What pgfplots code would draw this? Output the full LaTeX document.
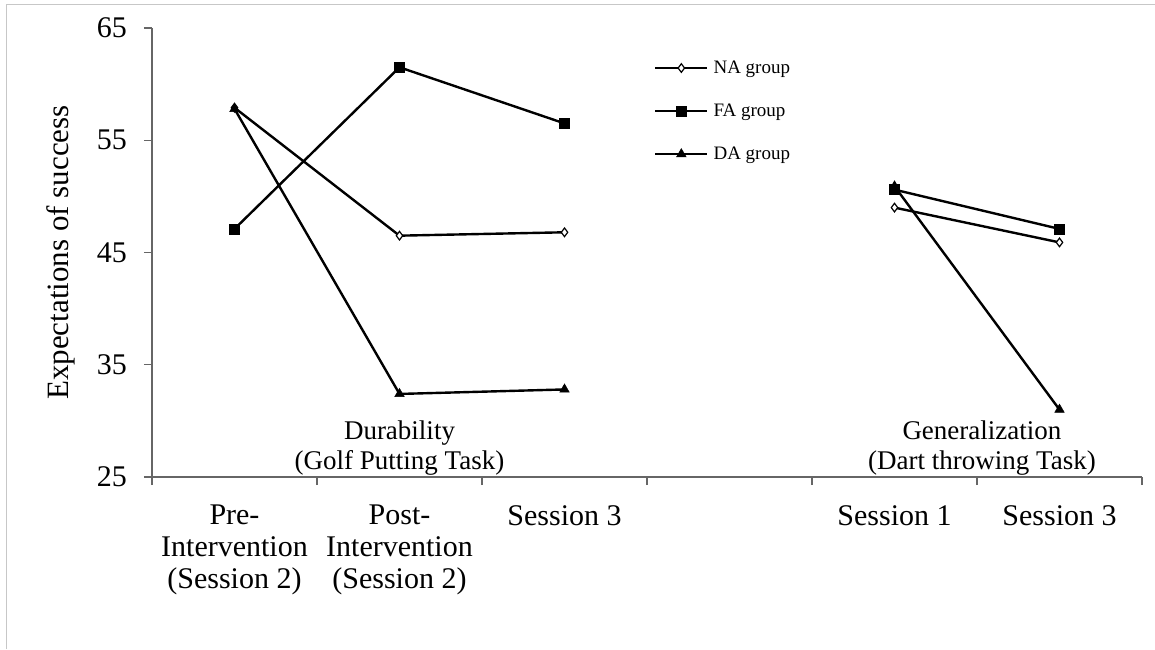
\documentclass[border=0pt]{standalone}
\usepackage{fontspec}
\setmainfont{Liberation Serif}
\usepackage{pgfplots}
\pgfplotsset{compat=1.18}
\begin{document}
\begin{tikzpicture}
\begin{axis}[
  at={(0pt,0pt)}, anchor=south west,
  scale only axis, width=990pt, height=449pt,
  xmin=0, xmax=6, ymin=25, ymax=65,
  axis x line*=bottom, axis y line*=left,
  axis line style={black!60, line width=1.2pt, -},
  ytick={25,35,45,55,65},
  xtick={0,1,2,3,4,5,6}, xticklabels={},
  extra x ticks={0.5,1.5,2.5,4.5,5.5},
  extra x tick labels={{Pre-\\Intervention\\(Session 2)},{Post-\\Intervention\\(Session 2)},{Session 3},{Session 1},{Session 3}},
  extra x tick style={major tick length=0pt},
  tick align=outside, major tick length=8pt,
  tick style={black!60, line width=1.2pt},
  /pgf/number format/assume math mode=true,
  xticklabel style={font=\fontsize{30}{32}\selectfont, align=center, anchor=north, inner sep=0pt, yshift=-28pt},
  yticklabel style={font=\fontsize{30}{32}\selectfont, inner sep=0pt, anchor=east, xshift=-17pt},
  ylabel={Expectations of success},
  every axis y label/.style={at={(axis description cs:-0.0919,0.5)}, rotate=90, anchor=center, font=\fontsize{31}{34}\selectfont},
  unbounded coords=jump,
  legend style={draw=none, fill=none, at={(axis description cs:0.507,0.815)}, anchor=west,
    font=\fontsize{19}{22}\selectfont, inner sep=0pt, row sep=29pt, column sep=5pt,
    nodes={inner sep=0pt}},
  legend cell align=left,
  legend image code/.code={\draw[mark repeat=2,mark phase=2,#1] plot coordinates {(0pt,0pt) (26pt,0pt) (52pt,0pt)};},
]
\addplot[black, line width=2.4pt, mark=diamond*, mark size=4.3pt, mark options={solid, fill=white, draw=black, line width=1.2pt}]
  coordinates {(0.5,57.9) (1.5,46.5) (2.5,46.8) (3.5,nan) (4.5,49.0) (5.5,45.9)};
\addlegendentry{NA group}
\addplot[black, line width=2.4pt, mark=square*, mark size=5pt, mark options={solid, fill=black, line width=0.5pt}]
  coordinates {(0.5,47.1) (1.5,61.5) (2.5,56.5) (3.5,nan) (4.5,50.6) (5.5,47.1)};
\addlegendentry{FA group}
\addplot[black, line width=2.4pt, mark=triangle*, mark size=5.5pt, mark options={solid, fill=black, line width=0.5pt}]
  coordinates {(0.5,57.8) (1.5,32.4) (2.5,32.8) (3.5,nan) (4.5,50.9) (5.5,31.0)};
\addlegendentry{DA group}
\node[align=center, font=\fontsize{27}{30}\selectfont] at (axis cs:1.5,27.6) {Durability\\(Golf Putting Task)};
\node[align=center, font=\fontsize{27}{30}\selectfont] at (axis cs:5.03,27.6) {Generalization\\(Dart throwing Task)};
\end{axis}
\draw[black!22, line width=1pt] (-145pt,-172pt) -- (-145pt,472pt) -- (1003pt,472pt);
\pgfresetboundingbox
\useasboundingbox (-152pt,-172pt) rectangle (1003pt,477pt);
\end{tikzpicture}
\end{document}
